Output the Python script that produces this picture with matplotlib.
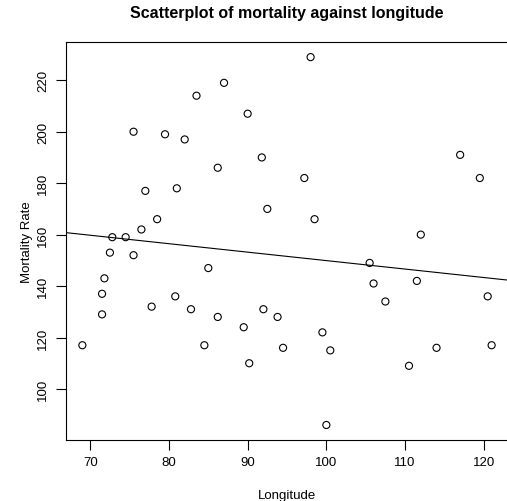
import numpy as np
import matplotlib
matplotlib.use("Agg")
import matplotlib.pyplot as plt

plt.rcParams['font.family'] = ['Liberation Sans', 'DejaVu Sans']

longitude = [87.0, 112.0, 92.5, 119.5, 105.5, 72.8, 75.5, 77.0, 82.0, 83.5,
             114.0, 89.5, 86.2, 93.8, 98.5, 85.0, 91.8, 69.0, 76.5, 71.8,
             84.5, 94.5, 90.0, 92.0, 110.5, 99.5, 117.0, 71.5, 74.5, 106.0,
             75.5, 79.5, 100.5, 82.8, 97.2, 120.5, 77.8, 71.5, 81.0, 100.0,
             86.2, 98.0, 111.5, 72.5, 78.5, 121.0, 80.8, 90.2, 107.5]
mortality = [219, 160, 170, 182, 149, 159, 200, 177, 197, 214,
             116, 124, 128, 128, 166, 147, 190, 117, 162, 143,
             117, 116, 207, 131, 109, 122, 191, 129, 159, 141,
             152, 199, 115, 131, 182, 136, 132, 137, 178, 86,
             186, 229, 142, 153, 166, 117, 136, 110, 134]

x_ticks = [70, 80, 90, 100, 110, 120]
y_ticks = [100, 120, 140, 160, 180, 200, 220]

x = np.array(longitude)
y = np.array(mortality)
slope, intercept = np.polyfit(x, y, 1)

fig = plt.figure(figsize=(5.07, 5.02), dpi=100)
ax = fig.add_axes([66/507, 1 - 440.7/502, (508-66)/507, (440.7-43.4)/502])

xr = x.max() - x.min()
yr = y.max() - y.min()
xlim = (x.min() - 0.04*xr, x.max() + 0.04*xr)
ylim = (y.min() - 0.04*yr, y.max() + 0.04*yr)

ax.scatter(x, y, s=26, facecolors='none', edgecolors='black', linewidths=0.8, zorder=3)
xx = np.array(xlim)
ax.plot(xx, intercept + slope*xx, color='black', linewidth=0.8)
ax.set_xlim(*xlim)
ax.set_ylim(*ylim)

ax.set_xticks(x_ticks)
ax.set_yticks(y_ticks)
ax.set_yticklabels([str(t) for t in y_ticks], rotation=90, va='center')
ax.tick_params(direction='out', length=7, width=0.8, labelsize=9.5, pad=5)
for s in ax.spines.values():
    s.set_linewidth(0.8)

ax.set_title("Scatterplot of mortality against longitude", fontsize=11.5,
             fontweight='bold', pad=18)
ax.set_xlabel("Longitude", fontsize=9.5, labelpad=15)
ax.set_ylabel("Mortality Rate", fontsize=9.5, labelpad=3)

fig.savefig("out.png", dpi=100)
